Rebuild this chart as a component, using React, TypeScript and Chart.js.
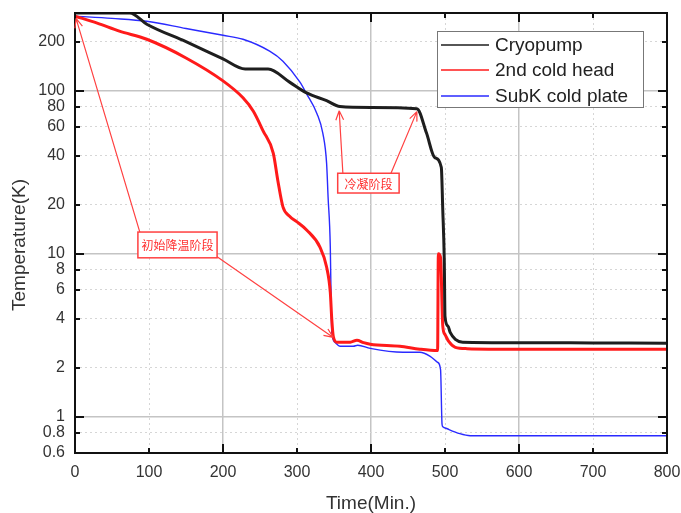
import React, { useEffect, useRef } from 'react';
import { Chart, registerables } from 'chart.js';
Chart.register(...registerables);

const xTicks = [0, 100, 200, 300, 400, 500, 600, 700, 800];
const yTicks = [0.6, 0.8, 1, 2, 4, 6, 8, 10, 20, 40, 60, 80, 100, 200];
const yMajor = [1, 10, 100];
const xMajor = [0, 200, 400, 600, 800];

const seriesNames = ['Cryopump', '2nd cold head', 'SubK cold plate'];
const seriesColors = ['#1e1e1e', '#ff1a1a', '#2a2aff'];
const seriesWidths = [3, 3, 1.4];

const cryoT = [0, 74, 97, 150, 200, 230, 261, 290, 313, 340, 358, 400, 462, 475, 486, 495, 497, 499, 500, 504, 507, 514, 524, 600, 700, 800];
const cryoV = [300, 300, 256, 200, 157, 136, 136, 113, 97, 87, 80, 79, 77.7, 55, 39, 33.9, 18.5, 9.2, 4.13, 3.6, 3.3, 2.99, 2.87, 2.85, 2.84, 2.83];

const headT = [0, 30, 60, 97, 150, 200, 227, 241, 254, 268, 274, 281, 290, 300, 313, 331, 340, 345, 347, 349, 354, 372, 381, 390, 399, 439, 466, 490, 491, 494, 497, 500, 505, 514, 530, 600, 700, 800];
const headV = [287, 260, 232, 207, 159, 115, 90.6, 75, 57, 41.3, 28.3, 19.4, 17, 15.7, 14, 11, 8.3, 5.8, 3.96, 3.12, 2.87, 2.87, 2.95, 2.85, 2.79, 2.71, 2.6, 2.55, 10, 9.5, 3.6, 3.2, 2.9, 2.67, 2.62, 2.6, 2.6, 2.6];

const plateT = [0, 50, 97, 150, 200, 227, 263, 281, 304, 313, 327, 335, 340, 342, 345, 346, 347, 351, 358, 376, 382, 399, 443, 466, 480, 490, 494, 496, 497, 503, 520, 534, 600, 800];
const plateV = [287, 278, 267, 241, 219, 207, 175, 152, 113, 95.7, 72.4, 54.6, 35.9, 22.3, 11, 5.5, 3.3, 2.87, 2.71, 2.71, 2.75, 2.63, 2.49, 2.49, 2.35, 2.16, 1.95, 0.9, 0.87, 0.845, 0.788, 0.766, 0.766, 0.766];

const noteLabels = ['初始降温阶段', '冷凝阶段'];
const noteBoxT = [[85, 192], [355, 438]];
const noteBoxV = [[13.6, 9.45], [31.2, 23.6]];
const arrowT = [[88, 1.4], [192, 349], [362, 357], [427, 462]];
const arrowV = [[13.4, 278], [9.6, 3.07], [31.2, 75.4], [31.2, 74.5]];

const FONT = '"Liberation Sans", Arial, sans-serif';

const zip = (t: number[], v: number[]) => t.map((x, i) => ({ x, y: v[i] }));

const decor = {
  id: 'decor',
  afterDraw(chart: any) {
    const { ctx, chartArea: a, scales } = chart;
    const xs = scales.x, ys = scales.y;
    ctx.save();
    ctx.strokeStyle = '#111';
    ctx.lineWidth = 2;
    ctx.strokeRect(a.left, a.top, a.right - a.left, a.bottom - a.top);
    yTicks.forEach((v) => {
      const y = Math.round(ys.getPixelForValue(v));
      const len = yMajor.includes(v) ? 9 : 5;
      ctx.beginPath();
      ctx.moveTo(a.left, y); ctx.lineTo(a.left + len, y);
      ctx.moveTo(a.right, y); ctx.lineTo(a.right - len, y);
      ctx.stroke();
    });
    xTicks.forEach((v) => {
      const x = Math.round(xs.getPixelForValue(v));
      const len = xMajor.includes(v) ? 9 : 5;
      ctx.beginPath();
      ctx.moveTo(x, a.bottom); ctx.lineTo(x, a.bottom - len);
      ctx.moveTo(x, a.top); ctx.lineTo(x, a.top + len);
      ctx.stroke();
    });
    ctx.fillStyle = '#333';
    ctx.font = `19px ${FONT}`;
    ctx.textAlign = 'center';
    ctx.textBaseline = 'middle';
    ctx.fillText('Time(Min.)', (a.left + a.right) / 2, 504);
    ctx.save();
    ctx.translate(20, 245);
    ctx.rotate(-Math.PI / 2);
    ctx.fillText('Temperature(K)', 0, 0);
    ctx.restore();

    ctx.strokeStyle = '#ff4040';
    ctx.lineWidth = 1.2;
    arrowT.forEach((tt, i) => {
      const x1 = xs.getPixelForValue(tt[0]);
      const y1 = ys.getPixelForValue(arrowV[i][0]);
      const x2 = xs.getPixelForValue(tt[1]);
      const y2 = ys.getPixelForValue(arrowV[i][1]);
      ctx.beginPath();
      ctx.moveTo(x1, y1); ctx.lineTo(x2, y2);
      const ang = Math.atan2(y2 - y1, x2 - x1);
      const hl = 10, ha = 0.4;
      ctx.moveTo(x2, y2);
      ctx.lineTo(x2 - hl * Math.cos(ang - ha), y2 - hl * Math.sin(ang - ha));
      ctx.moveTo(x2, y2);
      ctx.lineTo(x2 - hl * Math.cos(ang + ha), y2 - hl * Math.sin(ang + ha));
      ctx.stroke();
    });
    noteLabels.forEach((lab, i) => {
      const x1 = xs.getPixelForValue(noteBoxT[i][0]);
      const x2 = xs.getPixelForValue(noteBoxT[i][1]);
      const y1 = ys.getPixelForValue(noteBoxV[i][0]);
      const y2 = ys.getPixelForValue(noteBoxV[i][1]);
      ctx.fillStyle = '#ffffff';
      ctx.fillRect(x1, y1, x2 - x1, y2 - y1);
      ctx.strokeStyle = '#ff4040';
      ctx.lineWidth = 1.5;
      ctx.strokeRect(x1, y1, x2 - x1, y2 - y1);
      ctx.fillStyle = '#ff3030';
      ctx.font = '12px "Noto Sans CJK SC", sans-serif';
      ctx.textAlign = 'center';
      ctx.textBaseline = 'middle';
      ctx.fillText(lab, (x1 + x2) / 2, (y1 + y2) / 2 + 1);
    });

    const lx = 437, ly = 31, lw = 206, lh = 76;
    ctx.fillStyle = '#ffffff';
    ctx.fillRect(lx, ly, lw, lh);
    ctx.strokeStyle = '#777';
    ctx.lineWidth = 1;
    ctx.strokeRect(lx + 0.5, ly + 0.5, lw, lh);
    const rows = [45, 70, 96];
    seriesNames.forEach((n, i) => {
      ctx.strokeStyle = seriesColors[i];
      ctx.lineWidth = 1.5;
      ctx.beginPath();
      ctx.moveTo(441, rows[i]); ctx.lineTo(489, rows[i]);
      ctx.stroke();
      ctx.fillStyle = '#222';
      ctx.font = `19px ${FONT}`;
      ctx.textAlign = 'left';
      ctx.textBaseline = 'middle';
      ctx.fillText(n, 495, rows[i] + 1);
    });
    ctx.restore();
  },
};

export default function App() {
  const ref = useRef<HTMLCanvasElement>(null);
  useEffect(() => {
    if (!ref.current) return;
    const chart = new Chart(ref.current, {
      type: 'line',
      data: {
        datasets: [
          { label: seriesNames[0], data: zip(cryoT, cryoV) },
          { label: seriesNames[1], data: zip(headT, headV) },
          { label: seriesNames[2], data: zip(plateT, plateV) },
        ].map((d, i) => ({
          ...d,
          borderColor: seriesColors[i],
          backgroundColor: seriesColors[i],
          borderWidth: seriesWidths[i],
          pointRadius: 0,
          cubicInterpolationMode: 'monotone' as const,
          fill: false,
        })),
      },
      options: {
        responsive: false,
        animation: false,
        devicePixelRatio: 1,
        layout: { padding: { left: 0, right: 14, top: 13, bottom: 0 } },
        plugins: { legend: { display: false }, tooltip: { enabled: false } },
        scales: {
          x: {
            type: 'linear',
            min: 0,
            max: 800,
            afterFit: (s: any) => { s.height = 60; s.paddingLeft = 0; s.paddingRight = 0; },
            afterBuildTicks: (s: any) => { s.ticks = xTicks.map((v) => ({ value: v })); },
            ticks: {
              autoSkip: false,
              padding: 10,
              color: '#333',
              font: { family: FONT, size: 16 },
              maxRotation: 0,
              callback: (v: any) => String(v),
            },
            grid: {
              drawTicks: false,
              color: (c: any) => (xMajor.includes(c.tick?.value) ? '#c4c4c4' : '#d6d6d6'),
              lineWidth: (c: any) => (xMajor.includes(c.tick?.value) ? 1.5 : 1),
            },
            border: {
              display: false,
              dash: (c: any) => (xMajor.includes(c.tick?.value) ? [] : [2, 3]),
            },
          },
          y: {
            type: 'logarithmic',
            min: 0.6,
            max: 300,
            afterFit: (s: any) => { s.width = 75; s.paddingTop = 0; s.paddingBottom = 0; },
            afterBuildTicks: (s: any) => { s.ticks = yTicks.map((v) => ({ value: v })); },
            ticks: {
              autoSkip: false,
              padding: 10,
              color: '#333',
              font: { family: FONT, size: 16 },
              callback: (v: any) => String(v),
            },
            grid: {
              drawTicks: false,
              color: (c: any) => (yMajor.includes(c.tick?.value) ? '#c4c4c4' : '#d6d6d6'),
              lineWidth: (c: any) => (yMajor.includes(c.tick?.value) ? 1.5 : 1),
            },
            border: {
              display: false,
              dash: (c: any) => (yMajor.includes(c.tick?.value) ? [] : [2, 3]),
            },
          },
        },
      },
      plugins: [decor],
    });
    return () => chart.destroy();
  }, []);
  return (
    <div style={{ position: 'absolute', left: 0, top: 0, width: 681, height: 513, background: '#fff' }}>
      <canvas ref={ref} width={681} height={513} style={{ display: 'block' }} />
    </div>
  );
}
